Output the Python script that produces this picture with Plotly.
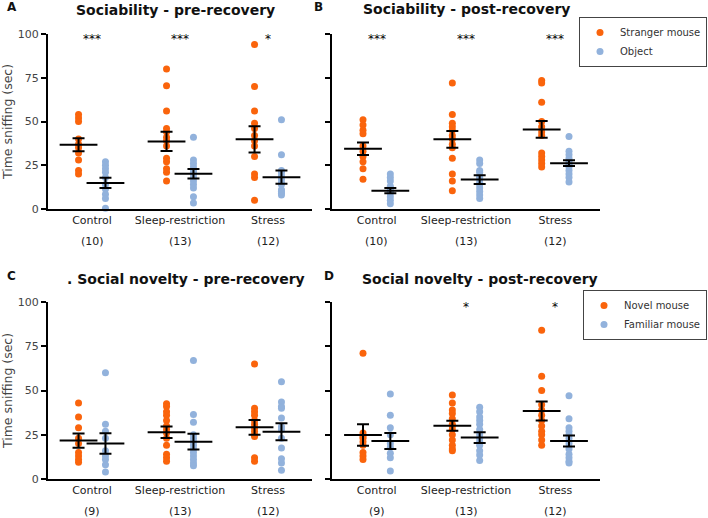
import plotly.graph_objects as go

groups = ["Control", "Sleep-restriction", "Stress"]
n_ab = ["(10)", "(13)", "(12)"]
n_cd = ["(9)", "(13)", "(12)"]

# A - sociability pre-recovery
a_stranger = [[54, 52, 50, 40, 37, 35, 32, 28, 22, 20],
              [80, 70.5, 56, 46, 44, 41, 39, 36, 29, 27, 23, 21, 16],
              [94, 70, 56, 49, 46, 42, 39, 36, 30, 20, 18, 5]]
a_object = [[27, 25, 23, 21, 18, 14, 11.5, 8.5, 6, 0.5],
            [41, 28, 26, 24, 22, 21, 20, 18, 16, 14, 12, 7, 3.5],
            [51, 31, 22, 21, 19, 17, 15, 14, 11, 10, 9, 8]]
a_stranger_mean = [36.7, 38.6, 39.8]
a_stranger_sem = [3.7, 5.5, 7.5]
a_object_mean = [14.9, 20.1, 18.2]
a_object_sem = [2.9, 2.7, 3.8]
a_stars = ["***", "***", "*"]

# B - sociability post-recovery
b_stranger = [[51, 48, 45, 43, 36, 33, 30, 27, 23, 17],
              [72, 54, 49, 47, 45, 42, 40, 37, 35, 29, 20, 16, 10.5],
              [73.5, 72, 61, 50, 47, 44, 42, 32, 30, 28, 26, 24]]
b_object = [[20, 18, 16, 13, 11, 10, 9, 7, 5, 3],
            [28, 26, 22, 21, 19, 18, 17, 15, 14, 12, 10, 8, 6],
            [41.5, 33, 31, 29, 27, 26, 25, 24, 22, 20, 18, 15.5]]
b_stranger_mean = [34.4, 39.8, 45.5]
b_stranger_sem = [3.6, 4.8, 4.8]
b_object_mean = [10.5, 16.8, 26.2]
b_object_sem = [1.5, 2.5, 1.6]
b_stars = ["***", "***", "***"]

# C - social novelty pre-recovery
c_novel = [[43, 35, 29, 23, 20, 15, 13, 11, 9.5],
           [42.5, 41, 38, 36, 33, 30, 28, 26, 23, 19, 14, 12, 10],
           [65, 40, 38, 36, 33, 31, 29, 27, 25, 24, 12, 10]]
c_familiar = [[60, 31, 27, 23, 16, 13, 11, 8, 4],
              [67, 36.5, 32, 25, 23, 21, 19, 17, 15, 13, 11, 9, 7.5],
              [55, 43.5, 41, 40, 34.5, 29.5, 28, 23, 17.5, 11.5, 9, 5]]
c_novel_mean = [21.7, 26.4, 29.2]
c_novel_sem = [4.0, 3.3, 4.2]
c_familiar_mean = [20.0, 21.1, 26.7]
c_familiar_sem = [5.8, 4.5, 4.8]
c_stars = ["", "", ""]

# D - social novelty post-recovery
d_novel = [[71, 26, 24, 23, 21, 19, 15, 13, 11],
           [47.5, 43, 39, 37, 34, 31, 30, 28, 25, 22, 19, 17, 16],
           [84, 58, 50, 42, 39, 36, 33, 30, 27, 25, 22, 19]]
d_familiar = [[48, 36, 29, 25, 20, 18, 14.5, 12, 4.5],
              [40.5, 38, 35, 33, 31, 28, 25, 23, 21, 19, 16, 13.5, 10.5],
              [47, 34, 29, 27, 25, 23, 20, 17, 14, 12, 10, 9]]
d_novel_mean = [24.9, 30.1, 38.4]
d_novel_sem = [6.1, 2.8, 5.4]
d_familiar_mean = [21.5, 23.4, 21.5]
d_familiar_sem = [4.5, 3.0, 3.1]
d_stars = ["", "*", "*"]

ORANGE = "rgb(250,100,12)"
BLUE = "rgb(146,178,220)"
FONT = "DejaVu Sans, sans-serif"
W, H = 708, 518
OFF = 0.153

fig = go.Figure()

panels = [
    ("x", "y", a_stranger, a_object, a_stranger_mean, a_stranger_sem,
     a_object_mean, a_object_sem, "legend", ["Stranger mouse", "Object"], True),
    ("x2", "y2", b_stranger, b_object, b_stranger_mean, b_stranger_sem,
     b_object_mean, b_object_sem, "legend", ["Stranger mouse", "Object"], False),
    ("x3", "y3", c_novel, c_familiar, c_novel_mean, c_novel_sem,
     c_familiar_mean, c_familiar_sem, "legend2", ["Novel mouse", "Familiar mouse"], True),
    ("x4", "y4", d_novel, d_familiar, d_novel_mean, d_novel_sem,
     d_familiar_mean, d_familiar_sem, "legend2", ["Novel mouse", "Familiar mouse"], False),
]

for xa, ya, s1, s2, m1, e1, m2, e2, leg, names, show in panels:
    for k, (series, mean, sem, col, off) in enumerate(
            [(s1, m1, e1, ORANGE, -OFF), (s2, m2, e2, BLUE, OFF)]):
        xs, ys = [], []
        for g, vals in enumerate(series):
            xs += [g + off] * len(vals)
            ys += vals
        fig.add_trace(go.Scatter(
            x=xs, y=ys, mode="markers", xaxis=xa, yaxis=ya,
            marker=dict(color=col, size=7), name=names[k],
            legend=leg, showlegend=show, cliponaxis=False))
        # mean +/- SEM
        fig.add_trace(go.Scatter(
            x=[g + off for g in range(3)], y=mean, mode="markers",
            xaxis=xa, yaxis=ya, showlegend=False, cliponaxis=False,
            marker=dict(symbol="line-ew", size=27, color="black",
                        line=dict(width=2, color="black")),
            error_y=dict(type="data", array=sem, width=6, thickness=2,
                         color="black")))

xdoms = [(48 / W, 312 / W), (332 / W, 600 / W)]
ydoms = [(1 - 209 / H, 1 - 34 / H), (1 - 479 / H, 1 - 302 / H)]

layout = dict(width=W, height=H, plot_bgcolor="white", paper_bgcolor="white",
              margin=dict(l=0, r=0, t=0, b=0, autoexpand=False),
              font=dict(family=FONT, size=11, color="#222"))

for i in range(4):
    sx = "" if i == 0 else str(i + 1)
    col, row = i % 2, i // 2
    layout["xaxis" + sx] = dict(
        domain=xdoms[col], range=[-0.5, 2.5], anchor="y" + sx,
        showline=True, linewidth=2, linecolor="black", showgrid=False,
        zeroline=False, tickvals=[0, 1, 2], ticktext=groups, automargin=False,
        ticks="", tickfont=dict(size=11, color="#222"))
    layout["yaxis" + sx] = dict(
        domain=ydoms[row], range=[0, 100], anchor="x" + sx, automargin=False,
        showline=True, linewidth=2, linecolor="black", showgrid=False,
        zeroline=False, tickvals=[0, 25, 50, 75, 100],
        ticks="outside", ticklen=5, tickwidth=2, tickcolor="black",
        showticklabels=(col == 0), tickfont=dict(size=11, color="#444"),
        title=dict(text="Time sniffing (sec)" if col == 0 else "",
                   font=dict(size=12.5, color="#444"), standoff=12))

for name, top in [("legend", 17), ("legend2", 290)]:
    layout[name] = dict(x=1 - 1 / W, y=1 - top / H, xanchor="right",
                        yanchor="top", bordercolor="#444", borderwidth=1,
                        bgcolor="white", font=dict(size=10, color="#333"),
                        tracegroupgap=0, itemwidth=30)

ann = []
titles = [("Sociability - pre-recovery", 175, 10),
          ("Sociability - post-recovery", 466, 9),
          (". Social novelty - pre-recovery", 186, 279),
          ("Social novelty - post-recovery", 480, 279)]
for t, x, y in titles:
    ann.append(dict(text="<b>" + t + "</b>", x=x / W, y=1 - y / H,
                    xref="paper", yref="paper", showarrow=False,
                    xanchor="center", yanchor="middle",
                    font=dict(size=14, color="#111")))
for t, x, y in [("A", 5, 7), ("B", 318, 7), ("C", 5, 276), ("D", 329, 276)]:
    ann.append(dict(text="<b>%s</b>" % t, x=x / W, y=1 - y / H, xref="paper",
                    yref="paper", showarrow=False, yanchor="middle",
                    font=dict(size=12, color="#111")))
for i, (stars, ns) in enumerate([(a_stars, n_ab), (b_stars, n_ab),
                                 (c_stars, n_cd), (d_stars, n_cd)]):
    sx = "" if i == 0 else str(i + 1)
    ny = 1 - (242 if i < 2 else 511) / H
    for g in range(3):
        if stars[g]:
            ann.append(dict(text=stars[g], x=g, y=97, xref="x" + sx,
                            yref="y" + sx, showarrow=False, yanchor="middle",
                            font=dict(size=12, color="black")))
        ann.append(dict(text=ns[g], x=g, y=ny, xref="x" + sx,
                        yref="paper", showarrow=False, yanchor="middle",
                        font=dict(size=11, color="#222")))
layout["annotations"] = ann

fig.update_layout(**layout)
# page body has an 8px default margin; drop it so the figure sits at 0,0
fig.write_html("out.html", config={"displayModeBar": False},
               post_script="document.body.style.margin='0px';")
